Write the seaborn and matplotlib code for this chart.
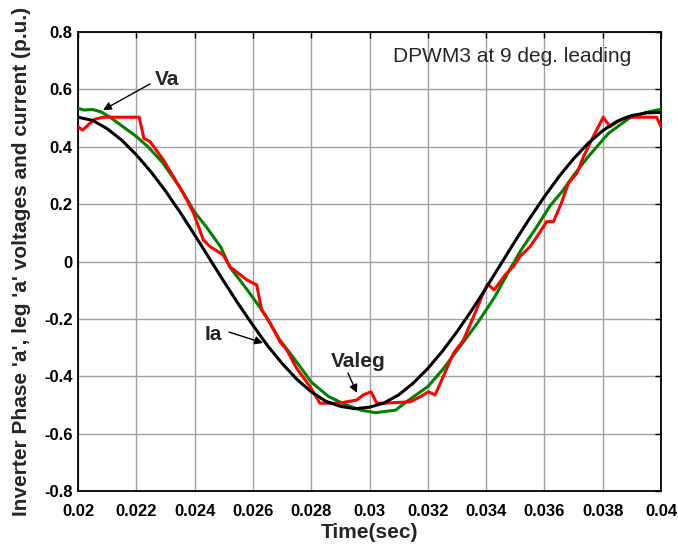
import numpy as np
import pandas as pd
import matplotlib
matplotlib.use("Agg")
import matplotlib.pyplot as plt
import seaborn as sns

# ---- data ----
t_ia = [0.0200, 0.0205, 0.0210, 0.0215, 0.0220, 0.0225, 0.0230, 0.0235, 0.0240, 0.0245,
        0.0250, 0.0255, 0.0260, 0.0265, 0.0270, 0.0275, 0.0280, 0.0285, 0.0290, 0.0295,
        0.0300, 0.0305, 0.0310, 0.0315, 0.0320, 0.0325, 0.0330, 0.0335, 0.0340, 0.0345,
        0.0350, 0.0355, 0.0360, 0.0365, 0.0370, 0.0375, 0.0380, 0.0385, 0.0390, 0.0395, 0.0400]
ia = [0.503, 0.492, 0.463, 0.423, 0.372, 0.313, 0.246, 0.172, 0.093, 0.012,
      -0.069, -0.148, -0.222, -0.293, -0.355, -0.410, -0.454, -0.487, -0.505, -0.513,
      -0.508, -0.493, -0.465, -0.424, -0.373, -0.313, -0.245, -0.171, -0.092, -0.010,
      0.072, 0.151, 0.226, 0.296, 0.358, 0.412, 0.456, 0.489, 0.509, 0.518, 0.520]

t_va = [0.0200, 0.0202, 0.0205, 0.0208, 0.0211, 0.0215, 0.0220, 0.0224, 0.0229, 0.0235,
        0.0240, 0.0244, 0.0249, 0.0252, 0.0258, 0.0264, 0.0269, 0.0275, 0.0280, 0.0286,
        0.0292, 0.0297, 0.0302, 0.0309, 0.0312, 0.0320, 0.0325, 0.0331, 0.0337, 0.0343,
        0.0348, 0.0352, 0.0357, 0.0362, 0.0366, 0.0370, 0.0375, 0.0382, 0.0389, 0.0395, 0.0400]
va = [0.534, 0.528, 0.530, 0.521, 0.503, 0.473, 0.436, 0.400, 0.345, 0.258,
      0.172, 0.121, 0.050, -0.018, -0.098, -0.182, -0.270, -0.350, -0.420, -0.471,
      -0.500, -0.518, -0.527, -0.518, -0.494, -0.436, -0.378, -0.297, -0.215, -0.123,
      -0.030, 0.040, 0.115, 0.195, 0.243, 0.300, 0.365, 0.447, 0.499, 0.520, 0.531]

t_vleg = [0.02000, 0.02016, 0.02041, 0.02058, 0.02087, 0.02210, 0.02226, 0.02247, 0.02293, 0.02327,
          0.02361, 0.02396, 0.02430, 0.02453, 0.02498, 0.02521, 0.02550, 0.02579, 0.02613, 0.02630,
          0.02659, 0.02693, 0.02716, 0.02750, 0.02796, 0.02830, 0.02899, 0.02922, 0.02956, 0.02979,
          0.03005, 0.03025, 0.03047, 0.03140, 0.03175, 0.03202, 0.03225, 0.03253, 0.03288, 0.03322,
          0.03357, 0.03385, 0.03405, 0.03428, 0.03465, 0.03493, 0.03516, 0.03551, 0.03574, 0.03608,
          0.03631, 0.03658, 0.03682, 0.03711, 0.03734, 0.03756, 0.03779, 0.03802, 0.03825, 0.03859,
          0.03882, 0.03985, 0.04000]
vleg = [0.470, 0.458, 0.482, 0.496, 0.503, 0.503, 0.429, 0.418, 0.354, 0.296,
        0.238, 0.170, 0.075, 0.052, 0.023, -0.018, -0.041, -0.064, -0.082, -0.169,
        -0.215, -0.280, -0.308, -0.372, -0.436, -0.494, -0.494, -0.489, -0.483, -0.465,
        -0.454, -0.494, -0.494, -0.489, -0.471, -0.454, -0.465, -0.401, -0.320, -0.274,
        -0.192, -0.123, -0.079, -0.099, -0.047, -0.018, 0.017, 0.052, 0.086, 0.139,
        0.139, 0.203, 0.272, 0.307, 0.365, 0.412, 0.458, 0.503, 0.470, 0.493,
        0.503, 0.503, 0.470]

x_ticks = [0.02, 0.022, 0.024, 0.026, 0.028, 0.03, 0.032, 0.034, 0.036, 0.038, 0.04]
x_ticklabels = ["0.02", "0.022", "0.024", "0.026", "0.028", "0.03", "0.032", "0.034", "0.036", "0.038", "0.04"]
y_ticks = [-0.8, -0.6, -0.4, -0.2, 0, 0.2, 0.4, 0.6, 0.8]
y_ticklabels = ["-0.8", "-0.6", "-0.4", "-0.2", "0", "0.2", "0.4", "0.6", "0.8"]

sns.set_theme(style="white")
plt.rcParams['font.family'] = ['Liberation Sans', 'DejaVu Sans']

fig, ax = plt.subplots(figsize=(6.78, 5.44), dpi=100)
fig.subplots_adjust(left=78/678, right=661/678, bottom=1-491/544, top=1-32/544)

df_va = pd.DataFrame({"t": t_va, "v": va})
df_leg = pd.DataFrame({"t": t_vleg, "v": vleg})
df_ia = pd.DataFrame({"t": t_ia, "v": ia})

sns.lineplot(data=df_va, x="t", y="v", ax=ax, color="#008000", lw=2.2, sort=False, estimator=None, zorder=3)
sns.lineplot(data=df_leg, x="t", y="v", ax=ax, color="#ff0000", lw=2.2, sort=False, estimator=None, zorder=4)
sns.lineplot(data=df_ia, x="t", y="v", ax=ax, color="black", lw=2.2, sort=False, estimator=None, zorder=5)

ax.set_xlim(0.02, 0.04)
ax.set_ylim(-0.8, 0.8)
ax.set_xticks(x_ticks)
ax.set_xticklabels(x_ticklabels, fontweight="bold", fontsize=12)
ax.set_yticks(y_ticks)
ax.set_yticklabels(y_ticklabels, fontweight="bold", fontsize=12)
ax.tick_params(axis="both", direction="in", length=4, width=1, top=True, right=True, colors="black")
ax.tick_params(axis="x", pad=9)
ax.tick_params(axis="y", pad=4)
ax.grid(True, color="#a0a0a0", lw=1, ls="-")
for s in ax.spines.values():
    s.set_visible(True)
    s.set_color("black")
    s.set_linewidth(1.3)

ax.set_xlabel("Time(sec)", fontweight="bold", fontsize=15, labelpad=3)
ax.set_ylabel("Inverter Phase 'a', leg 'a' voltages and current (p.u.)", fontweight="bold", fontsize=15, labelpad=9)

arrow = dict(arrowstyle="-|>", color="black", lw=1, mutation_scale=12, shrinkA=0, shrinkB=0)
ax.annotate("", xy=(0.02086, 0.528), xytext=(0.02247, 0.619), arrowprops=arrow, zorder=6)
ax.text(0.02305, 0.633, "Va", fontweight="bold", fontsize=15, ha="center", va="center")
ax.annotate("", xy=(0.02635, -0.284), xytext=(0.02518, -0.246), arrowprops=arrow, zorder=6)
ax.text(0.02463, -0.253, "Ia", fontweight="bold", fontsize=15, ha="center", va="center")
ax.annotate("", xy=(0.02957, -0.458), xytext=(0.02926, -0.389), arrowprops=arrow, zorder=6)
ax.text(0.02961, -0.350, "Valeg", fontweight="bold", fontsize=15, ha="center", va="center")
ax.text(0.03489, 0.713, "DPWM3 at 9 deg. leading", fontsize=15, ha="center", va="center")

fig.savefig("out.png", dpi=100, facecolor="white")
